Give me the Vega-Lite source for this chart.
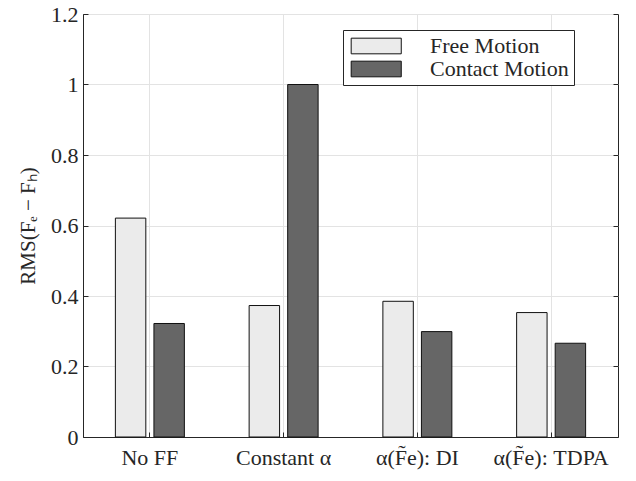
{
  "$schema": "https://vega.github.io/schema/vega-lite/v6.json",
  "width": 535,
  "height": 423,
  "autosize": {"type": "none"},
  "padding": {"left": 83, "top": 14, "right": 18, "bottom": 44},
  "background": "white",
  "config": {
    "font": "Liberation Serif",
    "view": {"stroke": "#262626", "strokeWidth": 1},
    "axis": {
      "labelFont": "Liberation Serif",
      "titleFont": "Liberation Serif",
      "labelColor": "#262626",
      "titleColor": "#262626",
      "domainColor": "#262626",
      "tickColor": "#262626",
      "gridColor": "#e3e3e3",
      "gridWidth": 1
    },
    "legend": {"labelFont": "Liberation Serif"}
  },
  "data": {
    "values": [
      {"method": "No FF", "motion": "Free Motion", "rms": 0.621},
      {"method": "No FF", "motion": "Contact Motion", "rms": 0.322},
      {"method": "Constant α", "motion": "Free Motion", "rms": 0.373},
      {"method": "Constant α", "motion": "Contact Motion", "rms": 1.0},
      {"method": "α(F̃e): DI", "motion": "Free Motion", "rms": 0.385},
      {"method": "α(F̃e): DI", "motion": "Contact Motion", "rms": 0.299},
      {"method": "α(F̃e): TDPA", "motion": "Free Motion", "rms": 0.353},
      {"method": "α(F̃e): TDPA", "motion": "Contact Motion", "rms": 0.266}
    ]
  },
  "encoding": {
    "x": {
      "field": "method",
      "type": "nominal",
      "sort": null,
      "scale": {"paddingInner": 0, "paddingOuter": 0},
      "axis": {
        "title": null,
        "labelAngle": 0,
        "labelFontSize": 22,
        "labelPadding": 15,
        "tickSize": -5,
        "bandPosition": 0.5,
        "grid": true,
        "domain": true
      }
    },
    "xOffset": {
      "field": "motion",
      "type": "nominal",
      "sort": ["Free Motion", "Contact Motion"],
      "scale": {"paddingInner": 0.21, "paddingOuter": 0.84}
    }
  },
  "layer": [
    {
      "mark": {"type": "bar", "stroke": "#111111", "strokeWidth": 1},
      "encoding": {
        "y": {
          "field": "rms",
          "type": "quantitative",
          "scale": {"domain": [0, 1.2], "nice": false},
          "axis": {
            "title": "RMS(Fₑ − Fₕ)",
            "titleFontSize": 21,
            "titleFontWeight": "normal",
            "titlePadding": 12,
            "labelFontSize": 22,
            "labelPadding": 10,
            "tickSize": -5,
            "values": [0, 0.2, 0.4, 0.6, 0.8, 1, 1.2],
            "format": ".1~f",
            "grid": true
          }
        },
        "color": {
          "field": "motion",
          "type": "nominal",
          "sort": ["Free Motion", "Contact Motion"],
          "scale": {"domain": ["Free Motion", "Contact Motion"], "range": ["#ebebeb", "#666666"]},
          "legend": {
            "title": null,
            "orient": "none",
            "legendX": 260,
            "legendY": 16,
            "direction": "vertical",
            "symbolType": "M-1,-1H5.4V1H-1Z",
            "symbolSize": 245,
            "symbolStrokeColor": "#111111",
            "symbolStrokeWidth": 1,
            "symbolOpacity": 1,
            "labelFontSize": 22,
            "labelColor": "#262626",
            "labelOffset": 60,
            "labelLimit": 300,
            "labelExpr": "datum.label + '\u2003\u2003'",
            "rowPadding": 1,
            "padding": 5,
            "strokeColor": "#262626",
            "fillColor": "white"
          }
        }
      }
    },
    {
      "mark": {"type": "bar", "opacity": 0},
      "encoding": {
        "y": {
          "field": "rms",
          "type": "quantitative",
          "axis": {
            "orient": "right",
            "title": null,
            "labels": false,
            "grid": false,
            "domain": false,
            "tickSize": -5,
            "values": [0, 0.2, 0.4, 0.6, 0.8, 1, 1.2]
          }
        }
      }
    }
  ],
  "resolve": {"axis": {"y": "independent"}}
}
